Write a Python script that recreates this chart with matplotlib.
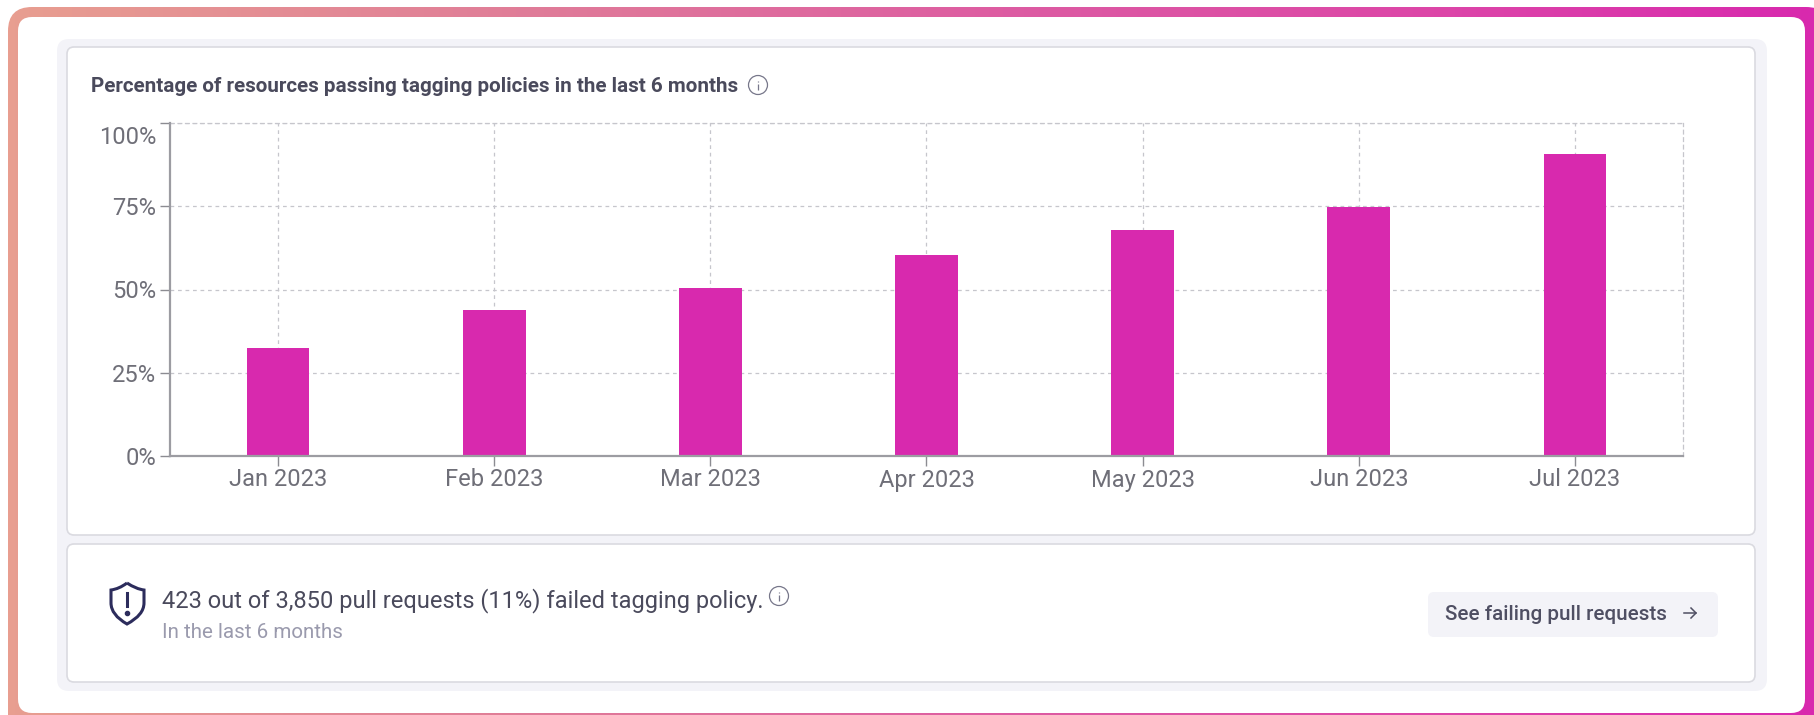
import numpy as np
import matplotlib
matplotlib.use("Agg")
import matplotlib.pyplot as plt
from matplotlib.patches import FancyBboxPatch, Circle, PathPatch
from matplotlib.path import Path
from matplotlib.colors import LinearSegmentedColormap
from matplotlib.transforms import ScaledTranslation

months = ["Jan 2023", "Feb 2023", "Mar 2023", "Apr 2023", "May 2023", "Jun 2023", "Jul 2023"]
passing = [32.3, 43.8, 50.4, 60.5, 68, 74.7, 90.8]
y_ticks = [0, 25, 50, 75, 100]

title = "Percentage of resources passing tagging policies in the last 6 months"
summary = "423 out of 3,850 pull requests (11%) failed tagging policy."
period = "In the last 6 months"
button = "See failing pull requests"

W, H = 1815, 715
PINK = "#d829ae"
NAVY = "#2c2c5c"

plt.rcParams["font.family"] = ["Roboto", "DejaVu Sans"]

fig = plt.figure(figsize=(W / 100, H / 100), dpi=100, facecolor="white")

# page layer, works in pixels from the top left corner
bg = fig.add_axes([0, 0, 1, 1])
bg.set_xlim(0, W)
bg.set_ylim(H, 0)
bg.axis("off")


def box(x0, y0, x1, y1, radius, face, edge="none", lw=0, z=1):
    patch = FancyBboxPatch((x0, y0), x1 - x0, y1 - y0,
                           boxstyle=f"round,pad=0,rounding_size={radius}",
                           facecolor=face, edgecolor=edge, linewidth=lw, zorder=z)
    bg.add_patch(patch)
    return patch


def info_icon(cx, cy, r=9.5, color="#77778a"):
    bg.add_patch(Circle((cx, cy), r, facecolor="none", edgecolor=color, linewidth=0.9, zorder=5))
    bg.plot([cx, cx], [cy - 1, cy + 5], color=color, lw=0.9, solid_capstyle="butt", zorder=5)
    bg.plot([cx, cx], [cy - 4.5, cy - 3], color=color, lw=0.9, solid_capstyle="butt", zorder=5)


# gradient frame round the whole card
outer = box(8, 7, 1830, 740, 24, "none", z=0)
cmap = LinearSegmentedColormap.from_list(
    "frame", [(0, "#e89e90"), (0.28, "#e07d98"), (0.55, "#dd5ca2"), (0.8, "#dc45a8"), (1, "#d829ae")])
grad = bg.imshow(np.linspace(0, 1, 512).reshape(1, -1), cmap=cmap, aspect="auto",
                 extent=(8, 1815, H, 0), zorder=0)
grad.set_clip_path(outer)
bg.set_xlim(0, W)
bg.set_ylim(H, 0)
box(18, 17, 1805, 713, 14, "white", z=0.5)

# panels
box(57, 39, 1767, 691, 12, "#f3f3f8", z=1)
box(67, 47, 1755, 535, 7, "#ffffff", "#dadae0", 1.2, z=2)
box(67, 544, 1755, 682, 7, "#ffffff", "#dadae0", 1.2, z=2)
box(1428, 592, 1718, 637, 6, "#f3f3f8", z=3)

bg.text(91, 86, title, fontsize=14.9, fontweight="bold", color="#4a4a5c", va="center", zorder=5)
info_icon(758, 85)

bg.text(162, 601, summary, fontsize=17, color="#4a4a5c", va="center", zorder=5)
bg.text(162, 633, period, fontsize=14.8, color="#9a9aad", va="center", zorder=5)
info_icon(779, 596)

bg.text(1445, 614, button, fontsize=14.85, fontweight="medium", color="#4f4f63", va="center", zorder=5)
bg.plot([1684, 1696], [613, 613], color="#4f4f63", lw=1.1, zorder=5)
bg.plot([1691, 1696, 1691], [608, 613, 618], color="#4f4f63", lw=1.1, zorder=5)

# shield icon
shield = Path(
    [(127, 583), (136, 589), (144, 590), (144, 603), (144, 615), (127, 624),
     (111, 615), (111, 603), (111, 590), (119, 589), (127, 583)],
    [Path.MOVETO, Path.CURVE3, Path.CURVE3, Path.LINETO, Path.CURVE3, Path.CURVE3,
     Path.CURVE3, Path.CURVE3, Path.LINETO, Path.CURVE3, Path.CURVE3])
bg.add_patch(PathPatch(shield, facecolor="none", edgecolor=NAVY, linewidth=2.2, zorder=5))
bg.plot([127, 127], [593, 606], color=NAVY, lw=2.2, zorder=5)
bg.plot([127], [613], marker="o", ms=3, color=NAVY, zorder=5)

# bar chart
left, right, top, bottom = 170, 1683, 123, 456
ax = fig.add_axes([left / W, 1 - bottom / H, (right - left) / W, (bottom - top) / H])
ax.patch.set_alpha(0)
x = np.arange(len(months))
ax.bar(x, passing, width=0.29, color=PINK, zorder=3)
ax.set_xlim(-0.5, len(months) - 0.5)
ax.set_ylim(0, 100)
ax.set_xticks(x, months)
ax.set_yticks(y_ticks, [f"{v}%" for v in y_ticks])
ax.grid(True, color="#c6c6cc", linewidth=0.9, linestyle=(0, (3, 3)), zorder=0)

for side in ["left", "bottom"]:
    ax.spines[side].set_color("#9c9ca2")
    ax.spines[side].set_linewidth(1.6)
    ax.spines[side].set_zorder(4)
for side in ["top", "right"]:
    ax.spines[side].set_color("#c6c6cc")
    ax.spines[side].set_linewidth(0.9)
    ax.spines[side].set_linestyle((0, (3, 3)))

ax.tick_params(axis="both", length=7, width=1, color="#8c8c92", labelcolor="#6f6f78", labelsize=17)
ax.tick_params(axis="y", pad=3)
ax.tick_params(axis="x", pad=2)
# top label sits inside the plot height
top_label = ax.get_yticklabels()[-1]
top_label.set_verticalalignment("top")
top_label.set_transform(top_label.get_transform() + ScaledTranslation(0, -2.5 / 100, fig.dpi_scale_trans))

fig.savefig("out.png", dpi=100)
